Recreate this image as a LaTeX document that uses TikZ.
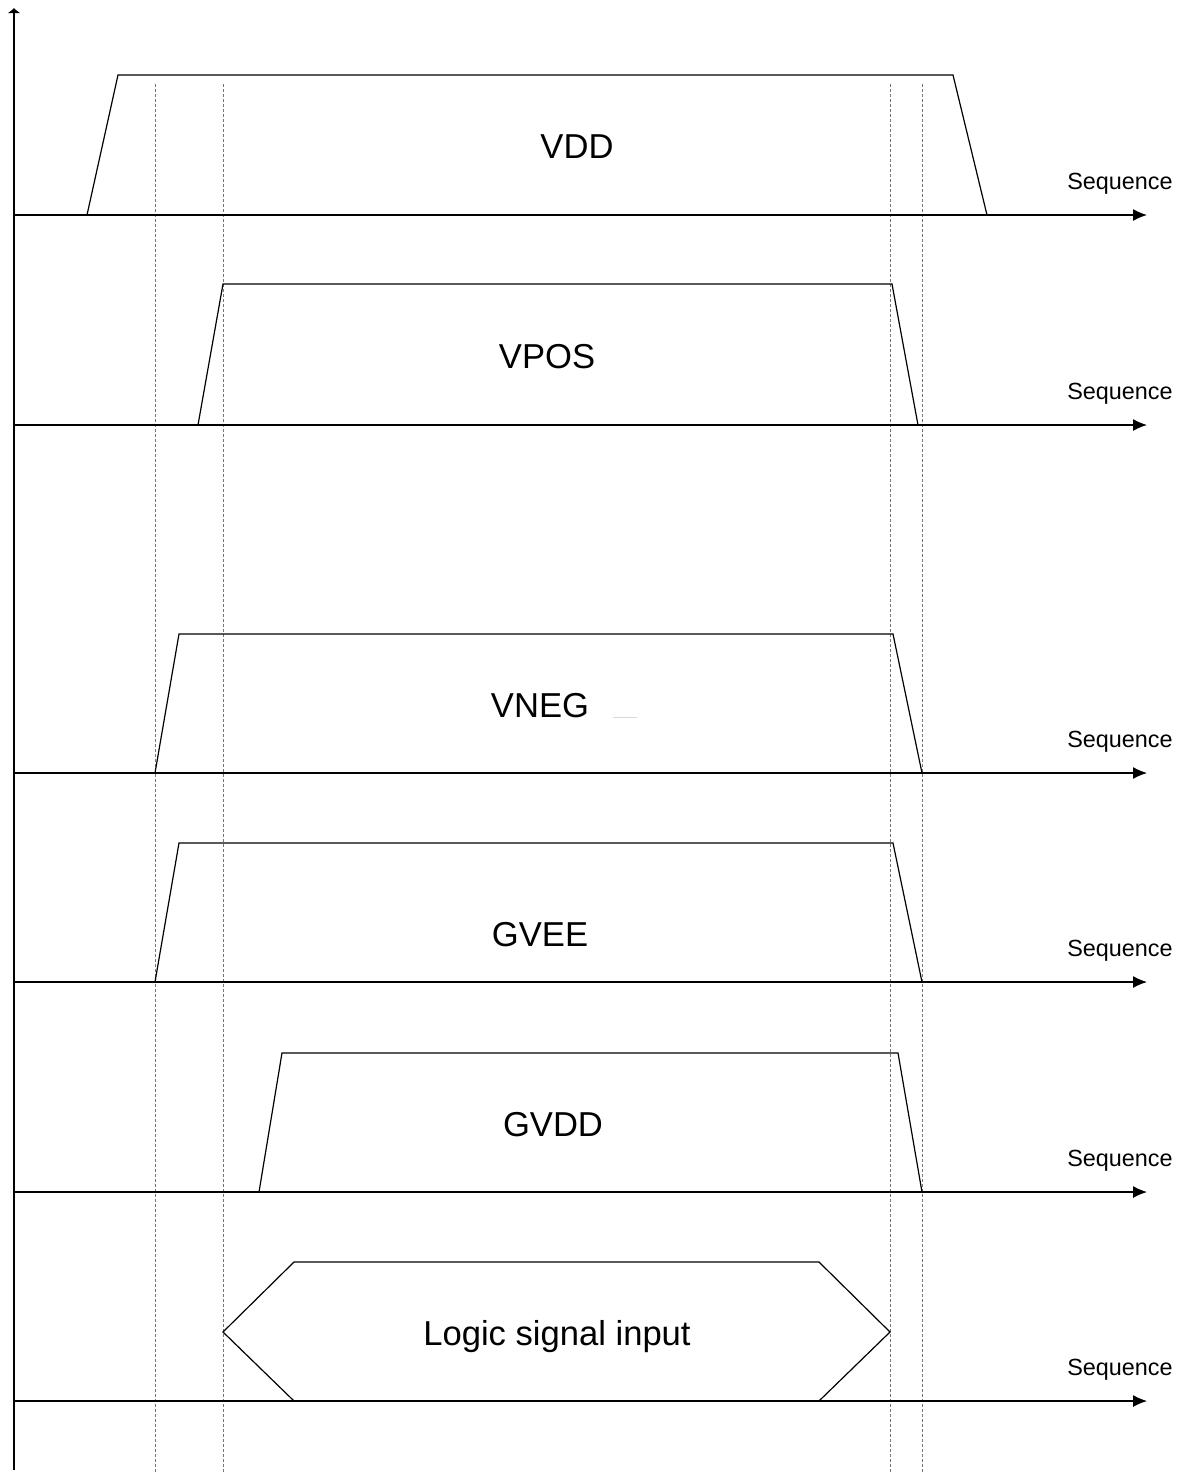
\documentclass[tikz,border=0pt]{standalone}
\usepackage{fontspec}
\setmainfont{Liberation Sans}
\usetikzlibrary{arrows.meta}

\begin{document}
\begin{tikzpicture}[
      x=0.5pt, y=-0.5pt,
      wave/.style={draw, line width=0.6pt, line join=miter},
      axis/.style={draw, line width=0.6pt, -{Latex[length=7pt,width=6pt]}},
      guide/.style={draw, black!55, line width=0.4pt, dash pattern=on 1.5pt off 1pt},
      sig/.style={anchor=base, font=\fontsize{17.3}{20}\selectfont},
      seq/.style={anchor=base, font=\fontsize{11.7}{14}\selectfont},
    ]
    \useasboundingbox (0,0) rectangle (1185,1474);

    % dotted time marks
    \foreach \x in {155,223,890,922}
      \draw[guide] (\x,84) -- (\x,1474);

    % vertical axis
    \coordinate (bot) at (14,1470);
    \coordinate (top) at (14,8);
    \draw[axis, -{Latex[length=2.5pt,width=6.5pt]}] (bot) -- (top);

    % one time axis per rail
    \foreach \y/\n in {215/1,425/2,773/3,982/4,1192/5,1401/6}{
        \coordinate (o\n) at (14,\y);
        \coordinate (e\n) at (1147,\y);
        \draw[axis] (o\n) -- (e\n);
        \node[seq] (seq\n) at (1120,\y-26) {Sequence};
      }

    % rails
    \draw[wave] (87,215) -- (118,75) -- (953,75) -- (987,215);
    \node[sig] (vdd) at (577,158) {VDD};

    \draw[wave] (198,425) -- (223,284) -- (892,284) -- (918,425);
    \node[sig] (vpos) at (547,368) {VPOS};

    \draw[wave] (155,773) -- (179,634) -- (893,634) -- (922,773);
    \node[sig] (vneg) at (540,717) {VNEG};
    \draw[black!15, line width=0.4pt] (613,717) -- (637,717);

    \draw[wave] (155,982) -- (179,843) -- (893,843) -- (922,982);
    \node[sig] (gvee) at (540,946) {GVEE};

    \draw[wave] (259,1192) -- (282,1053) -- (898,1053) -- (922,1192);
    \node[sig] (gvdd) at (553,1136) {GVDD};

    % logic bus
    \draw[wave] (223,1332) -- (294,1262) -- (819,1262) -- (890,1332)
      -- (819,1401) -- (294,1401) -- cycle;
    \node[sig] (logic) at (557,1345) {Logic signal input};
  \end{tikzpicture}
\end{document}
